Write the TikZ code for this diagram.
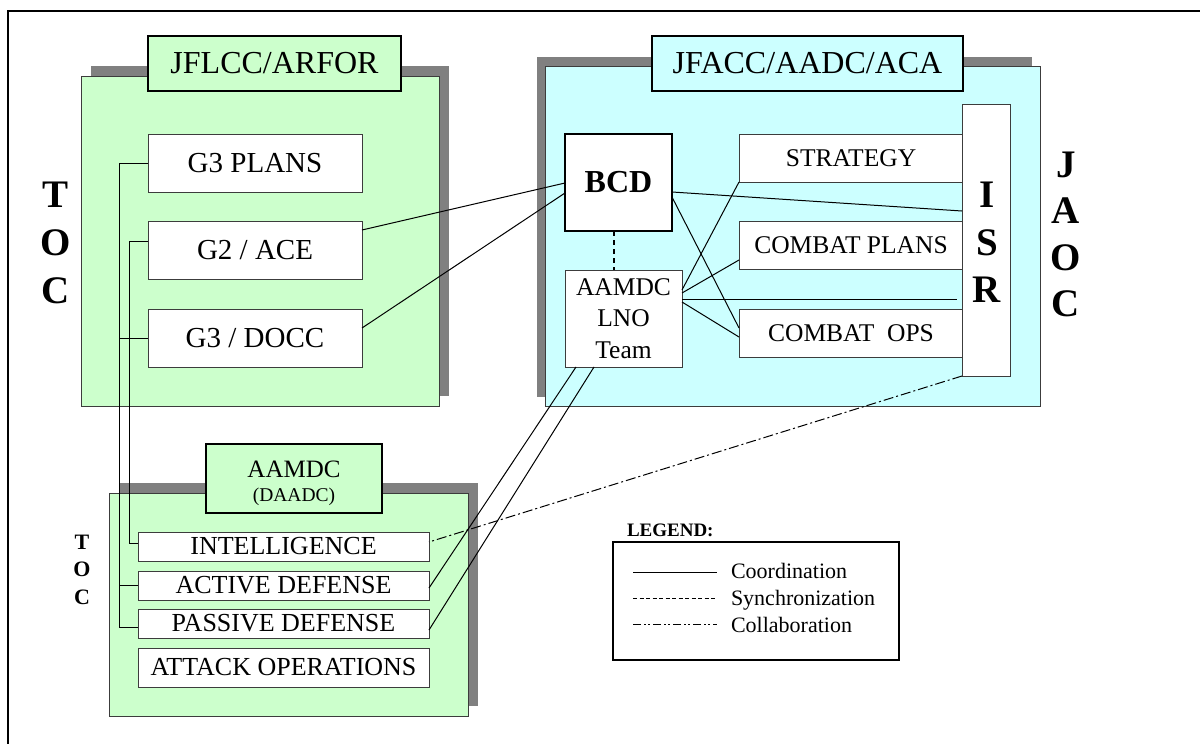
\documentclass[tikz,border=0pt]{standalone}
\usepackage{fontspec}
\setmainfont{Liberation Serif}
\definecolor{pgreen}{RGB}{204,255,204}
\definecolor{pcyan}{RGB}{204,255,255}
\definecolor{shadowgray}{RGB}{128,128,128}
\definecolor{edgegray}{RGB}{60,60,60}
\begin{document}
\begin{tikzpicture}[x=1pt,y=-1pt,
  shadowbox/.style={fill=shadowgray, draw=none, inner sep=0pt, outer sep=0pt},
  panel/.style={draw=edgegray, line width=1pt, inner sep=0pt, outer sep=0pt},
  labelbox/.style={draw=black, line width=2pt, inner sep=0pt, outer sep=0pt},
  whitebox/.style={draw=edgegray, fill=white, line width=1pt, inner sep=0pt, outer sep=0pt},
  boldbox/.style={draw=black, fill=white, line width=2pt, inner sep=0pt, outer sep=0pt},
  txt/.style={inner sep=0pt, outer sep=0pt},
  link/.style={line width=1pt, draw=black},
  sync/.style={line width=2pt, draw=black, dash pattern=on 5pt off 4pt},
  collab/.style={line width=1pt, draw=black, dash pattern=on 10pt off 3pt on 2pt off 3pt},
  fA/.style={font=\fontsize{32}{38}\selectfont},
  fB/.style={font=\fontsize{29}{34}\selectfont},
  fC/.style={font=\fontsize{26}{31}\selectfont},
  fD/.style={font=\fontsize{25.5}{31.5}\selectfont},
  fBig/.style={font=\fontsize{39}{48}\selectfont\bfseries},
]
\useasboundingbox (0,0) rectangle (1200,744);
\fill[white] (0,0) rectangle (1200,744);
% outer frame
\draw[line width=2.5pt] (8,744) -- (8,11) -- (1200,11);

% ---------- JFLCC/ARFOR panel ----------
\node[shadowbox, minimum width=358pt, minimum height=330pt] (jflccs) at (270,231) {};
\node[panel, fill=pgreen, minimum width=358pt, minimum height=330pt] (jflccp) at (260,241) {};
\node[labelbox, fill=pgreen, minimum width=253pt, minimum height=55pt, fA] (jflccl) at (274.5,63.5) {JFLCC/ARFOR};
\node[whitebox, minimum width=214pt, minimum height=58pt, fB] (g3plans) at (255,163) {G3 PLANS};
\node[whitebox, minimum width=214pt, minimum height=58pt, fB] (g2) at (255,250) {G2 / ACE};
\node[whitebox, minimum width=214pt, minimum height=58pt, fB] (g3docc) at (255,338) {G3 / DOCC};
\node[txt, fBig, align=center] (tocA) at (56,243) {T\\O\\C};

% ---------- AAMDC panel ----------
\node[shadowbox, minimum width=359pt, minimum height=223pt] (aamdcs) at (298.5,594.5) {};
\node[panel, fill=pgreen, minimum width=359pt, minimum height=223pt] (aamdcp) at (288.5,604.5) {};
\node[labelbox, fill=pgreen, minimum width=176pt, minimum height=69pt] (aamdcl) at (294,478.5) {};
\node[txt, font=\fontsize{25}{30}\selectfont] (aamdct) at (294,469) {AAMDC};
\node[txt, font=\fontsize{19.5}{24}\selectfont] (daadct) at (294,497) {(DAADC)};
\node[whitebox, minimum width=291pt, minimum height=29pt, fC] (intel) at (283.5,546.5) {INTELLIGENCE};
\node[whitebox, minimum width=291pt, minimum height=29pt, fC] (active) at (283.5,585.5) {ACTIVE DEFENSE};
\node[whitebox, minimum width=291pt, minimum height=29pt, fC] (passive) at (283.5,623.5) {PASSIVE DEFENSE};
\node[whitebox, minimum width=291pt, minimum height=39pt, fC] (attack) at (283.5,667.5) {ATTACK OPERATIONS};
\node[txt, align=center, font=\fontsize{22}{27.5}\selectfont\bfseries] (tocB) at (82,569.5) {T\\O\\C};

% ---------- JFACC/AADC/ACA panel ----------
\node[shadowbox, minimum width=495pt, minimum height=340pt] (jfaccs) at (784,227) {};
\node[panel, fill=pcyan, minimum width=495pt, minimum height=340pt] (jfaccp) at (792.5,236) {};
\node[labelbox, fill=pcyan, minimum width=311pt, minimum height=55pt, fA] (jfaccl) at (807.5,63.5) {JFACC/AADC/ACA};
\node[boldbox, minimum width=107pt, minimum height=97pt, font=\fontsize{32}{38}\selectfont\bfseries] (bcd) at (618.5,182.5) {BCD};
\node[whitebox, minimum width=117pt, minimum height=97pt, fD, align=center] (lno) at (623.5,318.5) {AAMDC\\LNO\\Team};
\node[whitebox, minimum width=224pt, minimum height=48pt, fD] (strategy) at (851,158) {STRATEGY};
\node[whitebox, minimum width=224pt, minimum height=48pt, fD] (cplans) at (851,245) {COMBAT PLANS};
\node[whitebox, minimum width=224pt, minimum height=48pt, fD] (cops) at (851,333) {COMBAT\ \ OPS};
\node[whitebox, minimum width=48pt, minimum height=272pt] (isr) at (986,240) {};
\node[txt, align=center, font=\fontsize{39}{47.3}\selectfont\bfseries] (isrt) at (987,242.5) {I\\S\\R};
\node[txt, align=center, font=\fontsize{39}{46.2}\selectfont\bfseries] (jaoc) at (1066,234.5) {J\\A\\O\\C};

% ---------- connectors ----------
% left TOC bus lines
\draw[link] (g3plans.west) -- ++(-29,0) |- ([yshift=-3.5pt]passive.west);
\draw[link] (g3docc.west) -- ++(-29,0);
\draw[link] (active.west) -- ++(-19,0);
\draw[link] ([yshift=9pt]g2.west) -- ++(-19,0) |- ([yshift=3.5pt]intel.west);
% to BCD
\draw[link] ([yshift=20pt]g2.east) -- ([yshift=-0.5pt]bcd.west);
\draw[link] ([yshift=10pt]g3docc.east) -- ([yshift=-10.5pt]bcd.west);
\draw[link] ([yshift=-9.5pt]bcd.east) -- ([yshift=29pt]isr.west);
\draw[link] ([yshift=-14.5pt]bcd.east) -- ([yshift=5pt]cops.west);
% LNO team links
\coordinate (isrstub) at (957,299);
\draw[link] ([yshift=28.5pt]lno.east) -- (strategy.south west);
\draw[link] ([yshift=25.5pt]lno.east) -- ([yshift=-15pt]cplans.west);
\draw[link] ([yshift=19.5pt]lno.east) -- (isrstub);
\draw[link] ([yshift=16.5pt]lno.east) -- ([yshift=-4pt]cops.west);
\draw[link] ([xshift=-47.5pt]lno.south) -- ([yshift=-2.5pt]active.east);
\draw[link] ([xshift=-29.5pt]lno.south) -- ([yshift=-6.5pt]passive.east);
% synchronization
\draw[sync] ([xshift=-4.5pt]bcd.south) -- ([xshift=-9.5pt]lno.north);
% collaboration
\draw[collab] (isr.south west) -- ([yshift=4.5pt]intel.east);

% ---------- legend ----------
\node[txt, font=\fontsize{19}{22}\selectfont\bfseries, anchor=west] (legt) at (627,530) {LEGEND:};
\node[draw=black, line width=2pt, inner sep=0pt, outer sep=0pt, minimum width=286pt, minimum height=118pt] (legbox) at (756,601) {};
\coordinate (l1a) at (633,572); \coordinate (l1b) at (717,572);
\coordinate (l2a) at (633,598); \coordinate (l2b) at (717,598);
\coordinate (l3a) at (633,624); \coordinate (l3b) at (717,624);
\draw[link] (l1a) -- (l1b);
\draw[line width=1pt, dash pattern=on 4pt off 2.5pt] (l2a) -- (l2b);
\draw[collab, dash pattern=on 8pt off 3pt on 2pt off 2pt on 2pt off 3pt] (l3a) -- (l3b);
\node[txt, anchor=west, font=\fontsize{22}{26}\selectfont, text height=15pt, text depth=5pt] (legc) at (731,573) {Coordination};
\node[txt, anchor=west, font=\fontsize{22}{26}\selectfont, text height=15pt, text depth=5pt] (legs) at (731,600) {Synchronization};
\node[txt, anchor=west, font=\fontsize{22}{26}\selectfont, text height=15pt, text depth=5pt] (legl) at (731,627) {Collaboration};
\end{tikzpicture}
\end{document}
